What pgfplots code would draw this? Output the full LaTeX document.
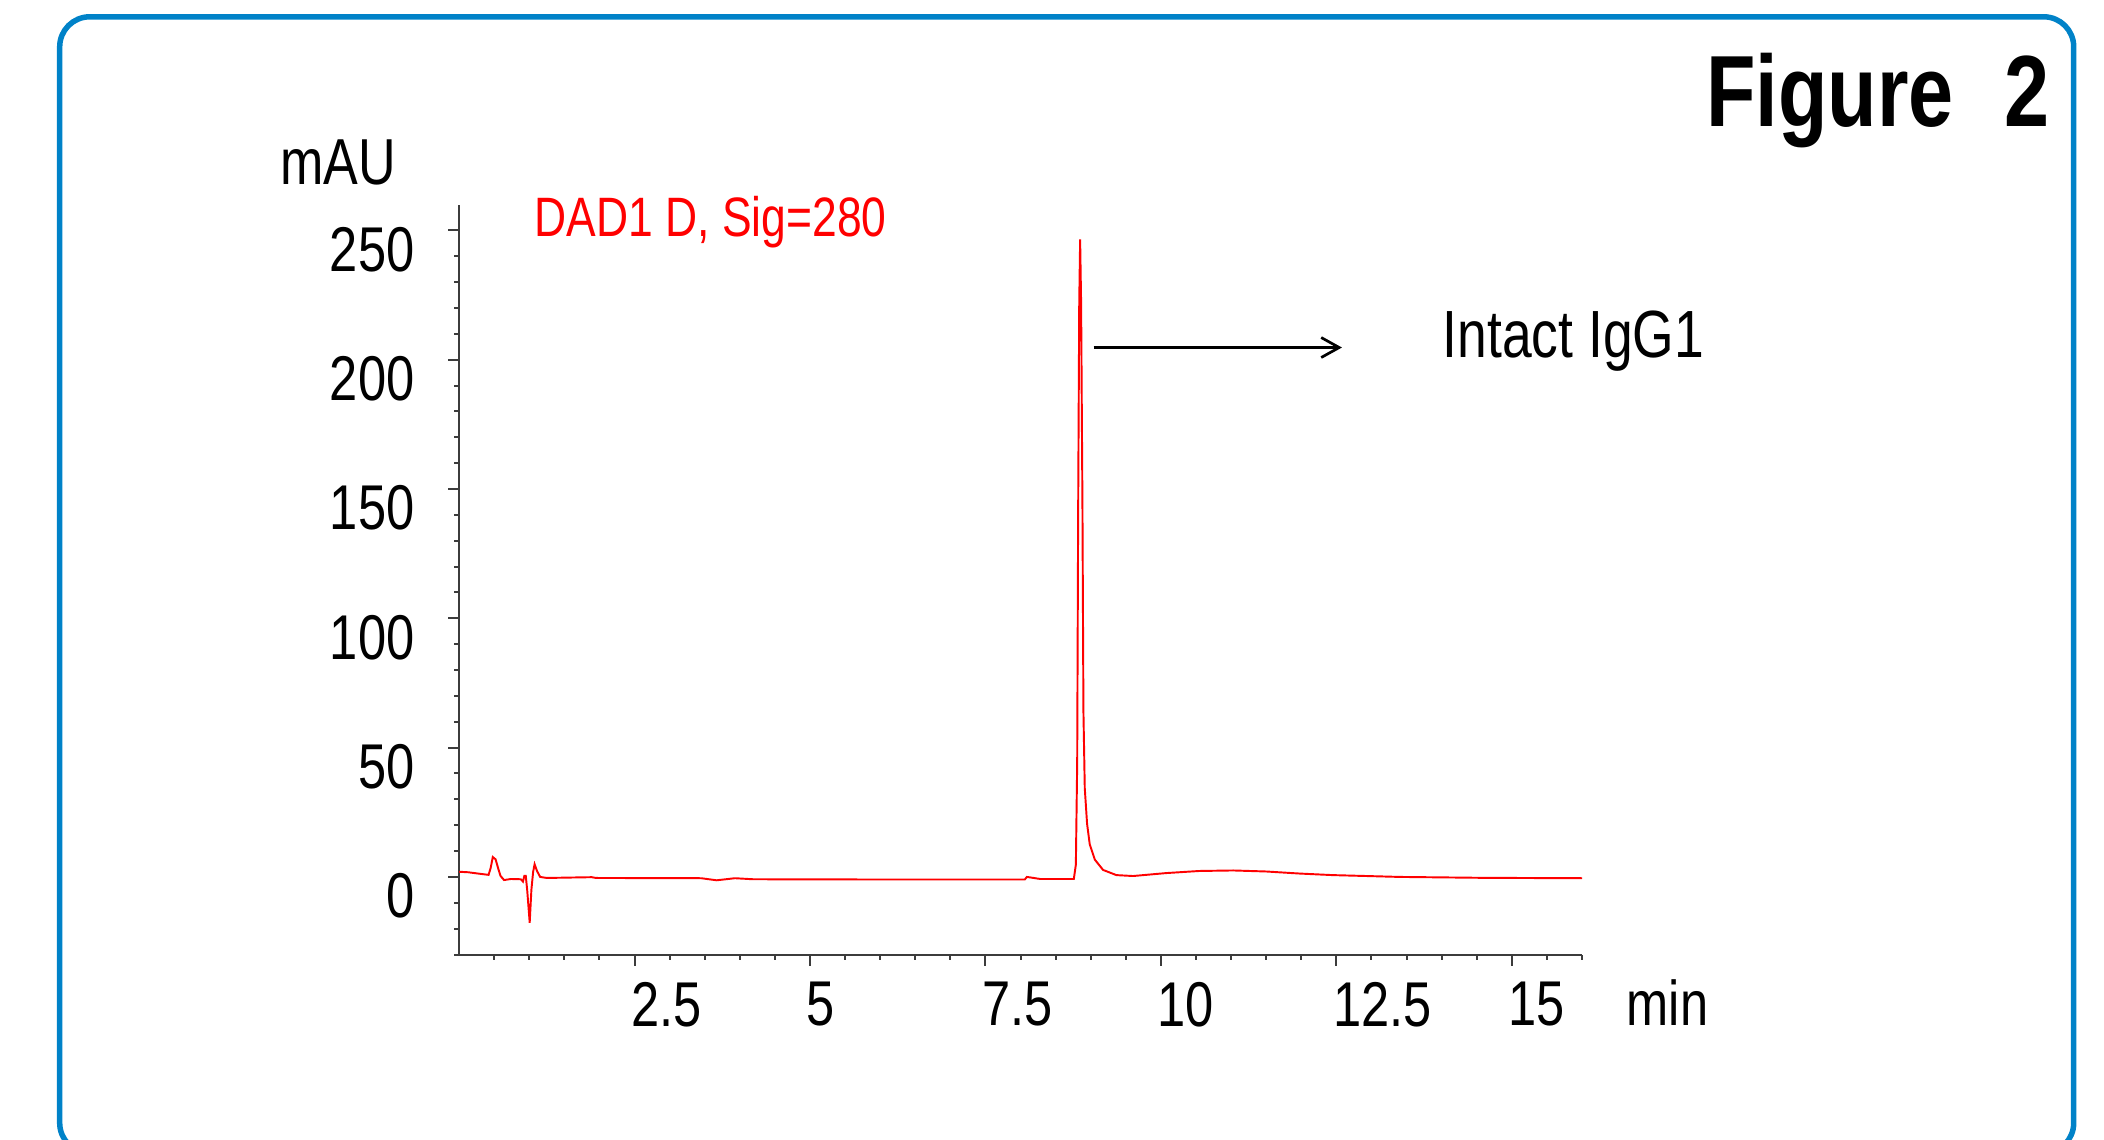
\documentclass[border=0pt]{standalone}
\usepackage{pgfplots}
\pgfplotsset{compat=1.18}
\usetikzlibrary{arrows.meta}
\usepackage{fontspec}
\setmainfont{Liberation Sans}[FakeStretch=0.8]
\definecolor{frameblue}{RGB}{0,130,200}
\definecolor{axgray}{RGB}{60,60,60}
\begin{document}
\begin{tikzpicture}
\useasboundingbox (0,0) rectangle (210.4mm,113.9mm);
\begin{scope}
\clip (0,0) rectangle (210.4mm,113.9mm);
\draw[frameblue, line width=0.55mm, rounded corners=3mm] (5.97mm,-1.4mm) rectangle (207.37mm,112.22mm);
\end{scope}
\begin{axis}[
  at={(45.91mm,18.45mm)}, anchor=south west,
  scale only axis, width=112.29mm, height=75mm,
  xmin=0, xmax=16, ymin=-30, ymax=260,
  axis lines=left, axis line style={-, axgray, line width=0.2mm},
  xtick={2.5,5,7.5,10,12.5,15},
  xticklabels={2.5,5,7.5,10,12.5,15},
  minor xtick={0.5,1,...,16},
  ytick={0,50,100,150,200,250},
  yticklabels={0,50,100,150,200,250},
  minor ytick={-30,-20,...,240},
  tick align=outside,
  major tick length=1.1mm, minor tick length=0.5mm,
  tick style={axgray, line width=0.2mm},
  /pgf/number format/assume math mode=true,
  tick label style={font=\fontsize{18}{20}\selectfont, text=black},
  xticklabel style={anchor=north west, xshift=-0.4mm, inner sep=0pt, yshift=-1.6mm},
  yticklabel style={anchor=east, inner sep=0pt, xshift=-3.3mm, yshift=-1.9mm},
  clip=false,
]
\addplot[red, line width=0.55pt] table {
0.00 2.0
0.13 1.8
0.30 1.2
0.42 0.8
0.45 3.5
0.48 7.7
0.52 6.8
0.56 3.0
0.59 0.4
0.64 -1.2
0.74 -0.8
0.88 -0.9
0.91 -1.8
0.93 0.4
0.95 0.4
0.97 -5
1.006 -17.7
1.03 -5
1.055 2
1.076 4.9
1.11 2.3
1.155 0.0
1.25 -0.4
1.89 -0.1
1.95 -0.4
3.45 -0.5
3.67 -1.3
3.93 -0.5
4.19 -0.9
6.00 -1.0
8.06 -1.0
8.09 0.0
8.14 -0.2
8.28 -0.8
8.759 -0.8
8.788 4.7
8.807 44.2
8.821 142.9
8.836 221.9
8.849 246.5
8.863 221.9
8.882 142.9
8.896 63.9
8.915 34.3
8.948 20.5
8.986 12.6
9.058 6.7
9.176 2.7
9.366 0.7
9.603 0.35
10.08 1.5
10.55 2.3
11.03 2.5
11.5 2.1
11.98 1.3
12.45 0.7
12.93 0.35
13.4 0.0
14.58 -0.35
16.0 -0.5
};
\draw[-{Straight Barb[length=1.8mm,width=2mm]}, line width=0.27mm, black] (axis cs:9.04,204.7) -- (axis cs:12.58,204.7);
\end{axis}
\node[anchor=base, inner sep=0pt, font=\fontsize{18.5}{20}\selectfont] at (33.8mm,95.5mm) {mAU};
\node[anchor=base west, inner sep=0pt, font=\fontsize{18}{20}\selectfont] at (162.6mm,11.4mm) {min};
\node[anchor=base west, inner sep=0pt, text=red, font=\fontsize{15.8}{18}\selectfont] at (53.4mm,90.3mm) {DAD1 D, Sig=280};
\node[anchor=base west, inner sep=0pt, font=\fontsize{19}{21}\selectfont] at (144.2mm,78.2mm) {Intact IgG1};
\node[anchor=base east, inner sep=0pt, font=\bfseries\fontsize{28.8}{32}\selectfont] at (205.0mm,101.2mm) {Figure\hspace{0.5em}2};
\end{tikzpicture}
\end{document}
